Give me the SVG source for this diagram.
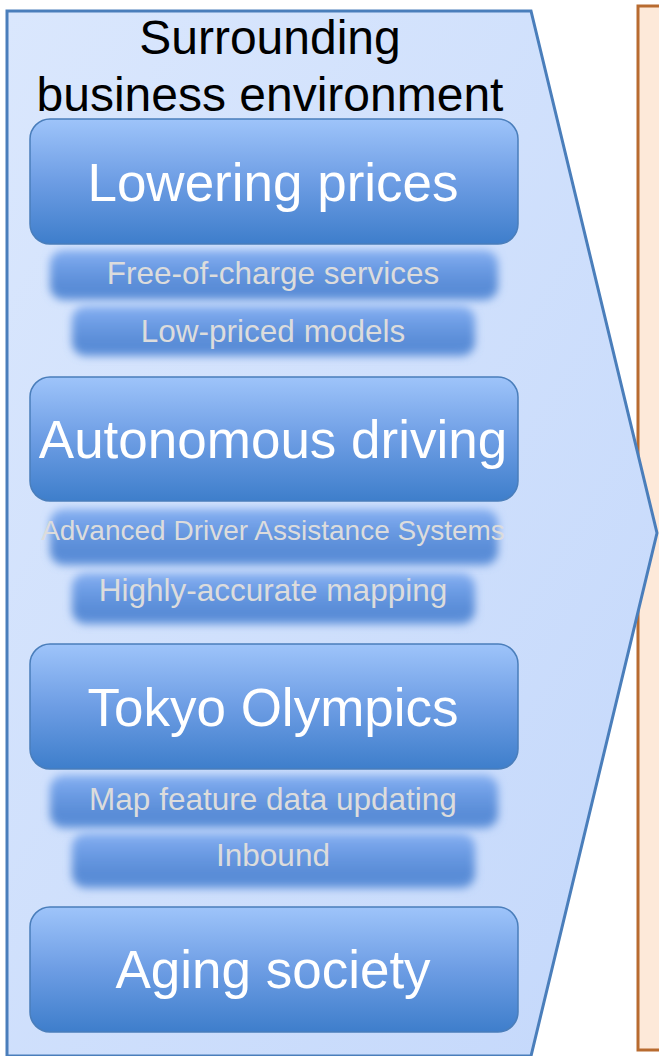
<svg xmlns="http://www.w3.org/2000/svg" width="659" height="1056" viewBox="0 0 659 1056">
  <defs>
    <linearGradient id="envFill" x1="0" y1="0" x2="1" y2="1">
      <stop offset="0" stop-color="#DAE7FD"/>
      <stop offset="1" stop-color="#C4D8FB"/>
    </linearGradient>
    <linearGradient id="mainFill" x1="0" y1="0" x2="0" y2="1">
      <stop offset="0" stop-color="#9EC4FA"/>
      <stop offset="0.5" stop-color="#6D9DE4"/>
      <stop offset="1" stop-color="#3E7ECB"/>
    </linearGradient>
    <linearGradient id="subFill" x1="0" y1="0" x2="0" y2="1">
      <stop offset="0" stop-color="#88B1F2"/>
      <stop offset="0.35" stop-color="#6C9CE4"/>
      <stop offset="0.75" stop-color="#588BD6"/>
      <stop offset="1" stop-color="#5F92DB"/>
    </linearGradient>
    <filter id="soft" x="-10%" y="-40%" width="120%" height="180%">
      <feGaussianBlur stdDeviation="4.5"/>
    </filter>
    <style>
      .main rect { fill: url(#mainFill); stroke: #4A7EBB; stroke-width: 1.5; }
      .main text { fill: #FFFFFF; font-family: "Liberation Sans", Arial, sans-serif; font-size: 53px; text-anchor: middle; }
      .sub rect { fill: url(#subFill); filter: url(#soft); }
      .sub text { fill: #DCDCDC; font-family: "Liberation Sans", Arial, sans-serif; font-size: 31.5px; text-anchor: middle; }
      .title { fill: #000000; font-family: "Liberation Sans", Arial, sans-serif; font-size: 48px; text-anchor: middle; }
    </style>
  </defs>

  <!-- result panel on the right -->
  <g id="result-panel">
    <rect x="638" y="6" width="40" height="1044" fill="#FDE9D9" stroke="#B86B30" stroke-width="3"/>
  </g>

  <!-- chevron holding the environment factors -->
  <g id="environment">
    <path d="M7 11 L531 11 L657 533 L531 1056 L7 1056 Z" fill="url(#envFill)" stroke="#4A7EBB" stroke-width="3"/>
    <text class="title" x="270" y="54">Surrounding</text>
    <text class="title" x="270" y="111">business environment</text>
  </g>

  <!-- Lowering prices -->
  <g id="sub-free-of-charge" class="sub">
    <rect x="50" y="250" width="448" height="50" rx="14"/>
    <text x="273" y="284">Free-of-charge services</text>
  </g>
  <g id="sub-low-priced" class="sub">
    <rect x="72" y="306" width="403" height="50" rx="14"/>
    <text x="273" y="342">Low-priced models</text>
  </g>
  <g id="lowering-prices" class="main">
    <rect x="30" y="119" width="488" height="125" rx="20"/>
    <text x="273" y="201">Lowering prices</text>
  </g>

  <!-- Autonomous driving -->
  <g id="sub-adas" class="sub">
    <rect x="50" y="509" width="448" height="56" rx="14"/>
    <text x="273" y="540" style="font-size:28px">Advanced Driver Assistance Systems</text>
  </g>
  <g id="sub-mapping" class="sub">
    <rect x="72" y="573" width="403" height="51" rx="14"/>
    <text x="273" y="601">Highly-accurate mapping</text>
  </g>
  <g id="autonomous-driving" class="main">
    <rect x="30" y="377" width="488" height="124" rx="20"/>
    <text x="273" y="458">Autonomous driving</text>
  </g>

  <!-- Tokyo Olympics -->
  <g id="sub-map-feature" class="sub">
    <rect x="50" y="775" width="448" height="53" rx="14"/>
    <text x="273" y="810">Map feature data updating</text>
  </g>
  <g id="sub-inbound" class="sub">
    <rect x="72" y="833" width="403" height="55" rx="14"/>
    <text x="273" y="866">Inbound</text>
  </g>
  <g id="tokyo-olympics" class="main">
    <rect x="30" y="644" width="488" height="125" rx="20"/>
    <text x="273" y="726">Tokyo Olympics</text>
  </g>

  <!-- Aging society -->
  <g id="aging-society" class="main">
    <rect x="30" y="907" width="488" height="125" rx="20"/>
    <text x="273" y="988">Aging society</text>
  </g>

  <!-- no connectors in this figure -->
  <g id="connectors"/>
</svg>
